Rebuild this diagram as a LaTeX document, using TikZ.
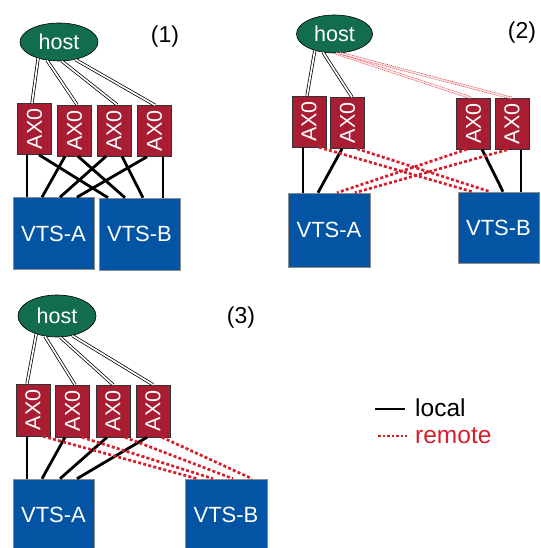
\documentclass[tikz,border=0pt]{standalone}
\usepackage{fontspec}
\setmainfont{Liberation Sans}
\usetikzlibrary{shapes.geometric}
\definecolor{hostgreen}{RGB}{18,108,78}
\definecolor{axred}{RGB}{168,29,50}
\definecolor{vtsblue}{RGB}{4,84,164}
\definecolor{remred}{RGB}{214,30,44}
\tikzset{
 hostnode/.style={ellipse, draw=black, line width=0.6pt, fill=hostgreen, text=white, minimum width=78pt, minimum height=38pt, inner sep=0pt, font=\fontsize{21.5}{21.5}\selectfont},
 axbox/.style={rectangle, draw=black!80, line width=0.6pt, fill=axred, text=white, minimum width=34pt, minimum height=51pt, inner sep=0pt, font=\fontsize{21.5}{21.5}\selectfont},
 vtsbox/.style={rectangle, draw=black!45, line width=0.6pt, fill=vtsblue, text=white, minimum width=81pt, minimum height=72pt, inner sep=0pt, font=\fontsize{22}{22}\selectfont},
 loc/.style={line width=2.8pt, black},
 rem/.style={line width=2.7pt, remred, dash pattern=on 3pt off 2.2pt},
 dbl/.style={draw=black, line width=0.75pt, double=white, double distance=1.7pt},
 rdbl/.style={draw=remred!85, line width=0.65pt, double=white, double distance=1.4pt, dash pattern=on 1.2pt off 0.9pt},
 lbl/.style={font=\fontsize{23}{23}\selectfont},
 leg/.style={font=\fontsize{24.5}{24.5}\selectfont, anchor=west, inner sep=0pt},
}
\begin{document}
\begin{tikzpicture}[x=1pt,y=-1pt]
\useasboundingbox (0,0) rectangle (540,548);
\begin{scope}
\clip (0,0) rectangle (540,548);
% ---------- panel 1
\node[hostnode] (h1) at (59,42) {host};
\node[axbox] (a11) at (34.5,129) {\rotatebox{90}{AX0}};
\node[axbox] (a12) at (74.5,130.5) {\rotatebox{90}{AX0}};
\node[axbox] (a13) at (114,130.5) {\rotatebox{90}{AX0}};
\node[axbox] (a14) at (154.5,131) {\rotatebox{90}{AX0}};
\node[vtsbox] (A1) at (53.5,233.5) {VTS-A};
\node[vtsbox] (B1) at (139.5,234) {VTS-B};
\node[lbl] (l1) at (165,37) {(1)};
\draw[loc] ([xshift=-7.5pt]a11.south) -- ([xshift=-26.5pt]A1.north);
\draw[loc] ([xshift=4.5pt]a11.south) -- ([xshift=-31.5pt]B1.north);
\draw[loc] ([xshift=-9.5pt]a12.south) -- ([xshift=-11.5pt]A1.north);
\draw[loc] ([xshift=3.5pt]a12.south) -- ([xshift=-14.5pt]B1.north);
\draw[loc] ([xshift=-8pt]a13.south) -- ([xshift=6.5pt]A1.north);
\draw[loc] ([xshift=8pt]a13.south) -- ([xshift=3.5pt]B1.north);
\draw[loc] ([xshift=-7.5pt]a14.south) -- ([xshift=23.5pt]A1.north);
\draw[loc] ([xshift=8.5pt]a14.south) -- ([xshift=23.5pt]B1.north);
\draw[dbl] (h1.-142.7) -- ([xshift=-2.5pt]a11.north);
\draw[dbl] (h1.-123.6) -- ([xshift=2.5pt]a12.north);
\draw[dbl] (h1.-81) -- ([xshift=3pt]a13.north);
\draw[dbl] (h1.-47.3) -- ([xshift=0.5pt]a14.north);
% ---------- panel 2
\node[hostnode, minimum width=76pt] (h2) at (334.5,34) {host};
\node[axbox] (a21) at (309,121.5) {\rotatebox{90}{AX0}};
\node[axbox] (a22) at (347.5,123) {\rotatebox{90}{AX0}};
\node[axbox] (a23) at (473.5,123.5) {\rotatebox{90}{AX0}};
\node[axbox] (a24) at (512,124) {\rotatebox{90}{AX0}};
\node[vtsbox, minimum width=82pt, minimum height=74pt] (A2) at (329,230) {VTS-A};
\node[vtsbox, minimum height=71pt] (B2) at (498.5,227.5) {VTS-B};
\node[lbl] (l2) at (522,33) {(2)};
\draw[loc] ([xshift=-6pt]a21.south) -- ([xshift=-26pt]A2.north);
\draw[loc] ([xshift=-5.5pt]a22.south) -- ([xshift=-11pt]A2.north);
\draw[loc] ([xshift=8.5pt]a23.south) -- ([xshift=4.5pt]B2.north);
\draw[loc] ([xshift=9pt]a24.south) -- ([xshift=22.5pt]B2.north);
\draw[rem] ([xshift=10pt]a21.south) -- ([xshift=-26.5pt]B2.north);
\draw[rem] ([xshift=9.5pt]a22.south) -- ([xshift=-8.5pt]B2.north);
\draw[rem] ([xshift=-6.5pt]a23.south) -- ([xshift=8pt]A2.north);
\draw[rem] ([xshift=-5pt]a24.south) -- ([xshift=26pt]A2.north);
\draw[dbl] (h2.-140.1) -- ([xshift=-2pt]a21.north);
\draw[dbl] (h2.-122.4) -- ([xshift=4.5pt]a22.north);
\draw[rdbl] (h2.-85) -- ([xshift=-3pt]a23.north);
\draw[rdbl] (h2.-75) -- ([xshift=0pt]a24.north);
% ---------- panel 3
\node[hostnode, minimum height=42pt] (h3) at (57,316) {host};
\node[axbox, minimum height=52pt] (a31) at (33,410) {\rotatebox{90}{AX0}};
\node[axbox, minimum height=52pt] (a32) at (72.5,411) {\rotatebox{90}{AX0}};
\node[axbox, minimum height=52pt] (a33) at (113,411) {\rotatebox{90}{AX0}};
\node[axbox, minimum height=52pt] (a34) at (153,411) {\rotatebox{90}{AX0}};
\node[vtsbox, minimum height=71pt] (A3) at (53.5,514.5) {VTS-A};
\node[vtsbox, minimum width=82pt, minimum height=71pt] (B3) at (226,514.5) {VTS-B};
\node[lbl] (l3) at (241,318) {(3)};
\draw[loc] ([xshift=-6pt]a31.south) -- ([xshift=-26.5pt]A3.north);
\draw[loc] ([xshift=-7.5pt]a32.south) -- ([xshift=-11.5pt]A3.north);
\draw[loc] ([xshift=-6pt]a33.south) -- ([xshift=6.5pt]A3.north);
\draw[loc] ([xshift=-6pt]a34.south) -- ([xshift=23.5pt]A3.north);
\draw[rem] ([xshift=10pt]a31.south) -- ([xshift=-29pt]B3.north);
\draw[rem] ([xshift=9.5pt]a32.south) -- ([xshift=-13pt]B3.north);
\draw[rem] ([xshift=12pt]a33.south) -- ([xshift=7pt]B3.north);
\draw[rem] ([xshift=9pt]a34.south) -- ([xshift=26pt]B3.north);
\draw[dbl] (h3.-139.9) -- ([xshift=-6pt]a31.north);
\draw[dbl] (h3.-121) -- ([xshift=2.5pt]a32.north);
\draw[dbl] (h3.-81.8) -- ([xshift=0pt]a33.north);
\draw[dbl] (h3.-52.3) -- ([xshift=0pt]a34.north);
% ---------- legend
\coordinate (lg1a) at (375,409);
\coordinate (lg1b) at (405,409);
\coordinate (lg2a) at (378,436);
\coordinate (lg2b) at (407,436);
\draw[loc] (lg1a) -- (lg1b);
\draw[remred, line width=2pt, dash pattern=on 2.5pt off 2pt] (lg2a) -- (lg2b);
\node[leg] (tl) at (415,408) {local};
\node[leg, text=remred] (tr) at (415,436) {remote};
\end{scope}
\end{tikzpicture}
\end{document}
